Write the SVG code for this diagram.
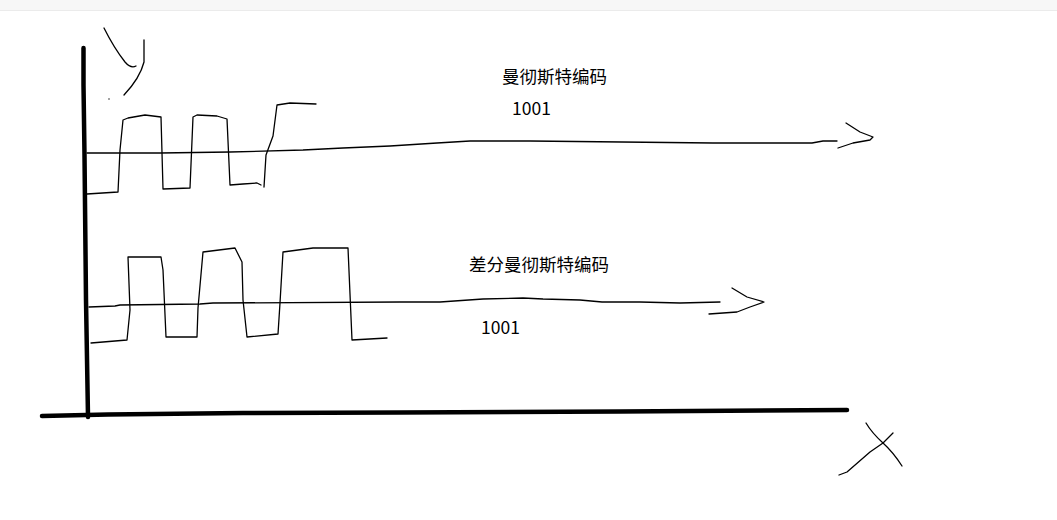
<svg xmlns="http://www.w3.org/2000/svg" width="1057" height="520" viewBox="0 0 1057 520">
<style>
.thin{fill:none;stroke:#000;stroke-width:1.3;stroke-linejoin:round;stroke-linecap:round}
.thick{fill:none;stroke:#000;stroke-width:4.5;stroke-linejoin:round;stroke-linecap:round}
.lbl{font-family:"Microsoft YaHei","Noto Sans CJK SC","Liberation Sans",sans-serif;font-size:17.5px;fill:#000}
</style>
<rect x="0" y="0" width="1057" height="520" fill="#fff"/>
<rect x="0" y="0" width="1057" height="10" fill="#f7f7f7"/>
<line x1="0" y1="10.5" x2="1057" y2="10.5" stroke="#ebebeb" stroke-width="1"/>
<g id="axes">
<polyline class="thick" points="83.5,48 83.5,85 84.5,155 86,300 88,417"/>
<polyline class="thick" points="42,416 108,414.5 243,413 400,412.5 620,411.5 847,410"/>
<path class="thin" d="M104,28 Q114,48 125,62 Q131,69 136,66"/>
<path class="thin" d="M144,40 L144,62 Q140,78 124,95"/>
<circle cx="109" cy="99" r="0.7" fill="#000"/>
<path class="thin" d="M866,423 Q872,433 883,443 Q893,452 902,466"/>
<path class="thin" d="M839,475 L847,472 L870,452 L883,443 L893,433"/>
</g>
<g id="connectors">
<polyline class="thin" points="87,153 120,153 160,153 230,152 303,150 343,148 390,146 437,143 470,141 530,141 713,143 812,143 823,141 837,141"/>
<polyline class="thin" points="846,123 860,132 873,137 870,140 853,143 838,148"/>
<polyline class="thin" points="89,307 115,306 120,305 200,304 213,303 400,302 440,302 483,299 523,298 543,299 580,300 602,302 640,302 680,303 720,302"/>
<polyline class="thin" points="732,288 747,297 764,302 750,307 737,312 709,314"/>
</g>
<g id="manchester">
<polyline class="thin" points="87,194 118,192 120,150 123,120 128,118 145,115 161,117 163,189 190,188 193,117 197,115 217,116 227,119 230,185 243,184 257,183 261,185"/>
<polyline class="thin" points="264,187 266,155 273,136 277,105 290,103 316,104"/>
<text class="lbl" x="502" y="83">曼彻斯特编码</text>
<text class="lbl" x="512" y="115">1001</text>
</g>
<g id="diff-manchester">
<polyline class="thin" points="91,343 127,340 130,310 128,257 161,257 163,270 166,337 197,337 198,308 203,252 235,248 242,262 243,300 247,337 278,334 280,303 283,252 313,248 348,248 352,340 387,338"/>
<text class="lbl" x="469" y="271">差分曼彻斯特编码</text>
<text class="lbl" x="481" y="334">1001</text>
</g>
</svg>
